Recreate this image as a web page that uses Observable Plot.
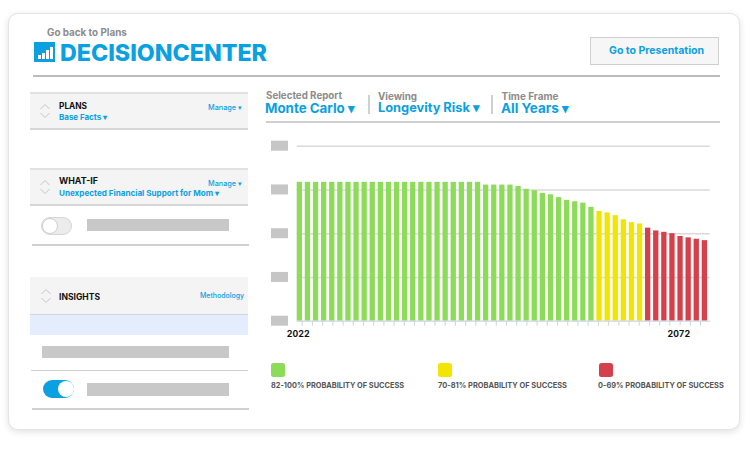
<!DOCTYPE html>
<html><head><meta charset="utf-8">
<script src="https://cdn.jsdelivr.net/npm/d3@7"></script>
<script src="https://cdn.jsdelivr.net/npm/@observablehq/plot@0.6"></script>
<style>
*{box-sizing:border-box}
body{margin:0;width:750px;height:452px;background:#fff;font-family:Inter,"Open Sans",sans-serif;overflow:hidden;position:relative}
.a{position:absolute;white-space:nowrap}
.t{position:absolute;white-space:nowrap;height:20px;line-height:20px;font-weight:700}
.card{left:8px;top:13px;width:732px;height:417px;border:1px solid #e4e4e4;border-radius:10px;box-shadow:0 2px 7px rgba(0,0,0,.12);background:#fff}
.blue{color:#0aa0e2}
.grey{color:#8c8c8c}
.hdr{background:#f4f4f4;border-top:2px solid #e2e2e2;border-bottom:2px solid #d6d6d6}
.bar{background:#c8c8c8}
.line{background:#d0d0d0}
.sq{width:14px;height:14px;border-radius:2.5px}
</style></head>
<body>
<div class="a card"></div>

<div class="t grey" style="left:47px;top:22px;font-size:10.5px" data-w="80">Go back to Plans</div>
<div class="a" style="left:34px;top:42px;width:21px;height:20px;background:#0aa0e2">
  <div class="a" style="left:4px;bottom:3px;width:3px;height:4px;background:#fff"></div>
  <div class="a" style="left:8px;bottom:3px;width:3px;height:6px;background:#fff"></div>
  <div class="a" style="left:12px;bottom:3px;width:3px;height:9px;background:#fff"></div>
  <div class="a" style="left:16px;bottom:3px;width:3px;height:12px;background:#fff"></div>
</div>
<div class="a blue" style="left:60px;top:38px;height:30px;line-height:30px;font-size:24px;font-weight:800" data-w="207">DECISIONCENTER</div>
<div class="a line" style="left:33px;top:75px;width:687px;height:2px;background:#bcbcbc"></div>

<div class="a" style="left:590px;top:37px;width:129px;height:28px;border:1px solid #cfcfcf;background:#f6f6f6"></div>
<div class="t blue" style="left:609px;top:41px;font-size:11.5px" data-w="95">Go to Presentation</div>

<!-- left panel -->
<div class="a hdr" style="left:30px;top:92px;width:218px;height:38px"></div>
<svg class="a" style="left:40px;top:103px" width="11" height="17"><polyline points="0.5,6 5,1.5 9.5,6" fill="none" stroke="#c4c4c4"/><polyline points="0.5,10 5,14.5 9.5,10" fill="none" stroke="#c4c4c4"/></svg>
<div class="t" style="left:59px;top:96px;font-size:9.5px;color:#111" data-w="28">PLANS</div>
<div class="t blue" style="left:59px;top:107px;font-size:8.5px" data-w="48">Base Facts ▾</div>
<div class="t blue" style="left:208px;top:98px;font-size:7.5px;font-weight:500" data-w="34">Manage ▾</div>

<div class="a hdr" style="left:30px;top:168px;width:218px;height:38px"></div>
<svg class="a" style="left:40px;top:179px" width="11" height="17"><polyline points="0.5,6 5,1.5 9.5,6" fill="none" stroke="#c4c4c4"/><polyline points="0.5,10 5,14.5 9.5,10" fill="none" stroke="#c4c4c4"/></svg>
<div class="t" style="left:59px;top:171px;font-size:9.5px;color:#111" data-w="39">WHAT-IF</div>
<div class="t blue" style="left:59px;top:182.5px;font-size:8.5px" data-w="160">Unexpected Financial Support for Mom ▾</div>
<div class="t blue" style="left:208px;top:174px;font-size:7.5px;font-weight:500" data-w="34">Manage ▾</div>

<div class="a" style="left:41px;top:217px;width:31px;height:18px;border-radius:9px;background:#ececec;border:1px solid #d6d6d6"></div>
<div class="a" style="left:42px;top:218px;width:16px;height:16px;border-radius:8px;background:#fff;border:1px solid #cfcfcf"></div>
<div class="a bar" style="left:87px;top:219px;width:142px;height:12px"></div>
<div class="a line" style="left:32px;top:243.5px;width:217px;height:2px"></div>

<div class="a" style="left:30px;top:277px;width:218px;height:38px;background:#f4f4f4;border-bottom:1px solid #cdd6e6"></div>
<svg class="a" style="left:41px;top:288px" width="11" height="17"><polyline points="0.5,6 5,1.5 9.5,6" fill="none" stroke="#c4c4c4"/><polyline points="0.5,10 5,14.5 9.5,10" fill="none" stroke="#c4c4c4"/></svg>
<div class="t" style="left:59px;top:287px;font-size:9.5px;color:#111" data-w="41">INSIGHTS</div>
<div class="t blue" style="left:200px;top:286px;font-size:7.5px;font-weight:500" data-w="44">Methodology</div>
<div class="a" style="left:30px;top:315px;width:218px;height:20px;background:#e3edfd"></div>
<div class="a bar" style="left:42px;top:346px;width:187px;height:12px"></div>
<div class="a line" style="left:31px;top:369.5px;width:217px;height:1.5px"></div>
<div class="a" style="left:43px;top:380px;width:31px;height:18px;border-radius:9px;background:#0aa0e2"></div>
<div class="a" style="left:58px;top:381px;width:16px;height:16px;border-radius:8px;background:#fff"></div>
<div class="a bar" style="left:87px;top:383px;width:142px;height:13px"></div>
<div class="a line" style="left:32px;top:408px;width:217px;height:2px"></div>

<!-- right header -->
<div class="t grey" style="left:266px;top:85.7px;font-size:10px" data-w="76">Selected Report</div>
<div class="t blue" style="left:265px;top:98.3px;font-size:14px" data-w="90">Monte Carlo ▾</div>
<div class="a line" style="left:368px;top:95px;width:1.5px;height:19px"></div>
<div class="t grey" style="left:378px;top:85.7px;font-size:10px" data-w="39">Viewing</div>
<div class="t blue" style="left:378px;top:98.3px;font-size:14px" data-w="102">Longevity Risk ▾</div>
<div class="a line" style="left:491px;top:95px;width:1.5px;height:19px"></div>
<div class="t grey" style="left:501.5px;top:85.7px;font-size:10px" data-w="57">Time Frame</div>
<div class="t blue" style="left:501px;top:98.3px;font-size:14px" data-w="68">All Years ▾</div>
<div class="a line" style="left:266px;top:121px;width:454px;height:2px"></div>

<div id="chart" class="a" style="left:262px;top:135px"></div>
<div id="legend"></div>

<script>
const years = [2022,2023,2024,2025,2026,2027,2028,2029,2030,2031,2032,2033,2034,2035,2036,2037,2038,2039,2040,2041,2042,2043,2044,2045,2046,2047,2048,2049,2050,2051,2052,2053,2054,2055,2056,2057,2058,2059,2060,2061,2062,2063,2064,2065,2066,2067,2068,2069,2070,2071,2072];
const probability = [100,100,100,100,100,100,100,100,100,100,100,100,100,100,100,100,100,100,100,100,100,100,100,
  98,98,98,98,97,95,94,92,91,89,87,86,85,82,
  79,78,76,73,71,70,
  67,65,64,63,61,60,59,58];
const bandNames = ["82-100%", "70-81%", "0-69%"];
const bandMin = [82, 70, 0];
const bandColors = ["#8cdb59", "#f2e500", "#d6404a"];
const bandLabels = ["82-100% PROBABILITY OF SUCCESS", "70-81% PROBABILITY OF SUCCESS", "0-69% PROBABILITY OF SUCCESS"];
const yTicks = [0, 31.5, 63, 94.5, 126];
const xLabels = [2022, 2072];

// fit text widths
document.querySelectorAll('[data-w]').forEach(el => {
  const target = +el.dataset.w;
  let fs = parseFloat(getComputedStyle(el).fontSize);
  for (let i = 0; i < 3; i++) {
    const w = el.getBoundingClientRect().width;
    fs *= target / w;
    el.style.fontSize = fs + "px";
  }
});

const bandOf = v => bandMin.findIndex(m => v >= m);
const data = years.map((year, i) => ({year, value: probability[i], band: bandNames[bandOf(probability[i])]}));
const minorTicks = d3.range(40).map(i => 2022.62 + i * 1.2608);

const chart = Plot.plot({
  width: 460, height: 215,
  marginLeft: 34.7, marginRight: 12.2, marginTop: 10.7, marginBottom: 29.3,
  style: {fontFamily: "Inter, sans-serif", overflow: "visible", background: "transparent"},
  x: {type: "linear", domain: [2022, 2073], label: null},
  y: {domain: [0, 126], axis: null},
  color: {domain: bandNames, range: bandColors},
  marks: [
    Plot.ruleY(yTicks.slice(1), {stroke: "#dadada", strokeWidth: 1.6}),
    Plot.rectY(data, {x1: "year", x2: d => d.year + 1, y: "value", fill: "band", insetRight: 2.8}),
    Plot.axisX(minorTicks, {tickSize: 5, tickFormat: () => "", stroke: "#ccd3e2", label: null}),
    Plot.ruleY([0], {stroke: "#cdd4e2", strokeWidth: 1.2}),
    Plot.axisX([xLabels[0]], {tickSize: 0, tickPadding: 10, tickFormat: d => String(d), fontWeight: 700, fontSize: 8.8, fill: "#111", dx: 1, label: null}),
    Plot.axisX([xLabels[1]], {tickSize: 0, tickPadding: 10, tickFormat: d => String(d), fontWeight: 700, fontSize: 8.8, fill: "#111", textAnchor: "end", dx: -12, label: null})
  ]
});
const ys = chart.scale("y");
d3.select(chart).append("g").selectAll("rect").data(yTicks).join("rect")
  .attr("x", 9).attr("width", 17).attr("y", d => ys.apply(d) - 5).attr("height", 10).attr("fill", "#c6c6c6");
document.getElementById("chart").append(chart);

// legend
const legendX = [271, 438, 599];
const legendW = [133, 129, 126];
const lg = document.getElementById("legend");
bandNames.forEach((b, i) => {
  const sq = document.createElement("div");
  sq.className = "a sq";
  sq.style.left = legendX[i] + "px"; sq.style.top = "363px"; sq.style.background = bandColors[i];
  lg.append(sq);
  const t = document.createElement("div");
  t.className = "t";
  t.style.left = (legendX[i] - (i === 2 ? 1 : 0)) + "px"; t.style.top = "376px";
  t.style.fontSize = "7.8px"; t.style.color = "#555";
  t.textContent = bandLabels[i];
  lg.append(t);
  let fs = 7.8;
  for (let k = 0; k < 3; k++) { fs *= legendW[i] / t.getBoundingClientRect().width; t.style.fontSize = fs + "px"; }
});
</script>
</body></html>
